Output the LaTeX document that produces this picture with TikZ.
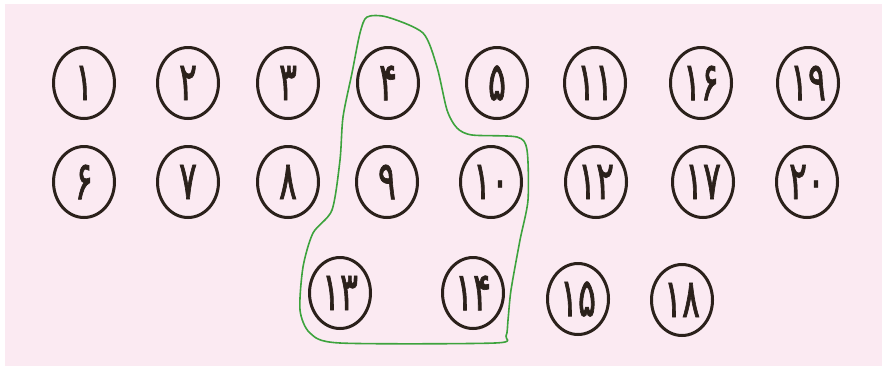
\documentclass[tikz,border=0pt]{standalone}
\usepackage{fontspec}
\newfontfamily\fafont[Script=Arabic,FakeStretch=0.62,FakeBold=1.2]{DejaVu Sans}
\definecolor{bgpink}{HTML}{FBEAF2}
\definecolor{ink}{HTML}{2B211B}
\definecolor{lasso}{HTML}{3DA33D}
\usetikzlibrary{shapes.geometric}
\tikzset{
  num/.style={draw=ink, line width=3pt, ellipse, minimum width=61pt, minimum height=71pt, inner sep=0pt,
    font=\fafont\fontsize{54}{54}\selectfont, text=ink},
}
\begin{document}
\begin{tikzpicture}[x=1pt,y=-1pt]
\useasboundingbox (0,0) rectangle (885,368);
\fill[white] (0,0) rectangle (885,368);
\fill[bgpink] (5,4) rectangle (882,366);
% row 1
\node[num] (n1)  at (84,83)  {۱};
\node[num] (n2)  at (188,83) {۲};
\node[num] (n3)  at (288,83) {۳};
\node[num] (n4)  at (388,83) {۴};
\node[num] (n5)  at (497,83) {۵};
\node[num] (n11) at (595,83) {۱۱};
\node[num] (n16) at (701,83) {۱۶};
\node[num] (n19) at (808,83) {۱۹};
% row 2
\node[num] (n6)  at (84,182)  {۶};
\node[num] (n7)  at (188,182) {۷};
\node[num] (n8)  at (288,182) {۸};
\node[num] (n9)  at (387,182) {۹};
\node[num] (n10) at (491,182) {۱۰};
\node[num] (n12) at (596,182) {۱۲};
\node[num] (n17) at (703,182) {۱۷};
\node[num] (n20) at (807,182) {۲۰};
% row 3
\node[num] (n13) at (340,293) {۱۳};
\node[num] (n14) at (473,293) {۱۴};
\node[num] (n15) at (578,299) {۱۵};
\node[num] (n18) at (682,300) {۱۸};
% green lasso
\draw[lasso, line width=1.6pt, line join=round]
  plot[smooth cycle, tension=0.45] coordinates {
    (367,17) (387,17) (423,33) (437,67) (447,110) (457,128) (472,135)
    (517,137) (527,150) (528,200) (520,240) (511,290) (508,320) (506,336) (495,343)
    (340,343) (310,333) (300,310) (303,267) (313,233) (332,210) (340,160)
    (343,117) (352,73) (360,33)};
\end{tikzpicture}
\end{document}
